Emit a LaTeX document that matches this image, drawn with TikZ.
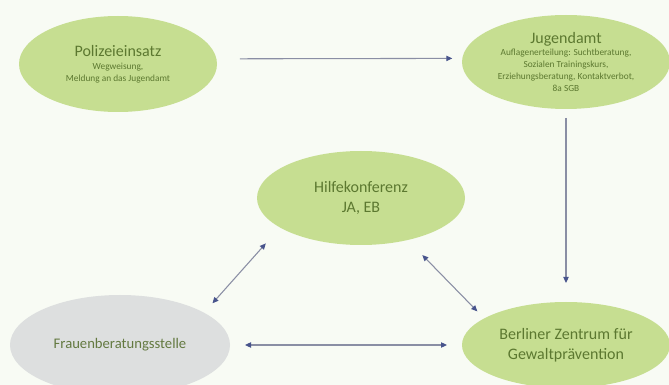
\documentclass[tikz,border=0pt]{standalone}
\usepackage{fontspec}
\setmainfont{Carlito}
\usetikzlibrary{arrows.meta,shapes.geometric}

\definecolor{paper}{RGB}{248,251,244}
\definecolor{leafgreen}{RGB}{198,222,145}
\definecolor{stonegray}{RGB}{221,223,223}
\definecolor{olivetext}{RGB}{92,120,48}
\definecolor{linegray}{RGB}{138,142,164}
\definecolor{tipblue}{RGB}{72,84,140}

\tikzset{
  bubble/.style={ellipse, fill=leafgreen, draw=none, inner sep=0pt, outer sep=0pt,
    text=olivetext, align=center, font=\fontsize{12}{15}\selectfont},
  greybubble/.style={bubble, fill=stonegray, text=olivetext!80!gray, font=\fontsize{11}{14}\selectfont},
  flow/.style={draw=linegray, line width=0.8pt, -{Triangle[length=4.5pt,width=4pt,color=tipblue]}},
  twoway/.style={flow, {Triangle[length=4.5pt,width=4pt,color=tipblue]}-{Triangle[length=4.5pt,width=4pt,color=tipblue]}}
}
\newcommand{\smalltxt}{\fontsize{7}{8.6}\selectfont}

\begin{document}
\begin{tikzpicture}[x=0.75pt,y=0.75pt,yscale=-1,xscale=1]
%set diagram left start at 0, and has height of 385
\fill[paper] (0,0) rectangle (669,385);
\useasboundingbox (0,0) rectangle (669,385);

%Shape: Ellipse [id:polizei]
\node[bubble, minimum width=148.5pt, minimum height=72pt] (polizei) at (118,64)
  {Polizeieinsatz\\[-5.5pt]\smalltxt Wegweisung,\\[-6pt]\smalltxt Meldung an das Jugendamt};
%Shape: Ellipse [id:jugend]
\node[bubble, minimum width=156pt, minimum height=70.5pt] (jugend) at (566,62)
  {Jugendamt\\[-5.5pt]\smalltxt Auflagenerteilung: Suchtberatung,\\[-6pt]\smalltxt Sozialen Trainingskurs,\\[-6pt]\smalltxt Erziehungsberatung, Kontaktverbot,\\[-6pt]\smalltxt 8a SGB};
%Shape: Ellipse [id:hilfe]
\node[bubble, minimum width=156pt, minimum height=70.5pt] (hilfe) at (361,198)
  {Hilfekonferenz\\JA, EB};
%Shape: Ellipse [id:frauen]
\node[greybubble, minimum width=165pt, minimum height=75pt] (frauen) at (120,345)
  {Frauenberatungsstelle};
%Shape: Ellipse [id:berlin]
\node[bubble, minimum width=156pt, minimum height=64.5pt] (berlin) at (566,345)
  {Berliner Zentrum für\\Gewaltprävention};

%Straight Lines [id:polizei-jugend]
\draw[flow, shorten <=17.5pt, shorten >=7.5pt] (polizei.3) -- (jugend.178);
%Straight Lines [id:jugend-berlin]
\draw[flow, shorten <=6.75pt, shorten >=14.25pt] (jugend.south) -- (berlin.north);
%Straight Lines [id:hilfe-frauen]
\draw[twoway, shorten <=16pt, shorten >=9.5pt] (hilfe.200) -- (frauen.21);
%Straight Lines [id:hilfe-berlin]
\draw[twoway, shorten <=15.8pt, shorten >=7.4pt] (hilfe.318) -- (berlin.162);
%Straight Lines [id:frauen-berlin]
\draw[twoway, shorten <=11.25pt, shorten >=11.25pt] (frauen.east) -- (berlin.west);

\end{tikzpicture}
\end{document}
